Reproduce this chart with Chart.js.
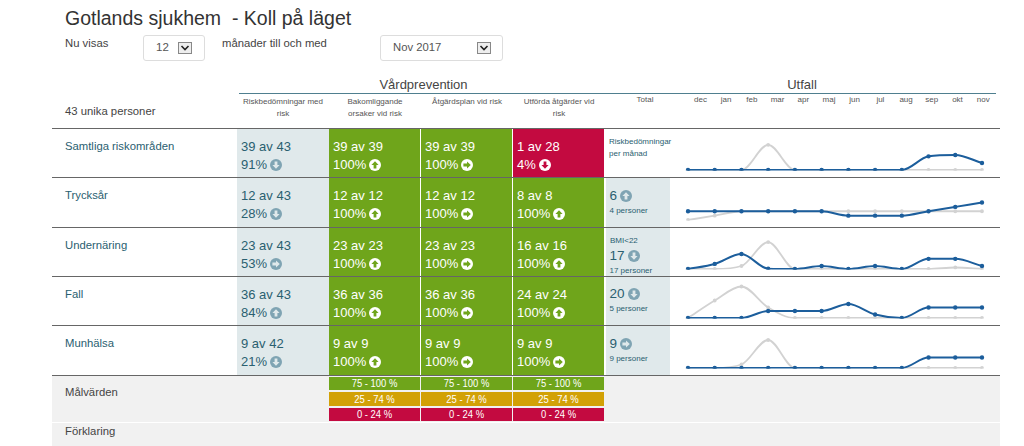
<!DOCTYPE html>
<html>
<head>
<meta charset="utf-8">
<title>Koll på läget</title>
<script src="https://cdn.jsdelivr.net/npm/chart.js@4"></script>
<style>
  html, body { margin: 0; padding: 0; background: #fff; overflow: hidden; }
  body { width: 1024px; height: 446px; position: relative; font-family: "Liberation Sans", Arial, sans-serif; color: #333; }
  .t { position: absolute; white-space: nowrap; line-height: 1; }
  .box { position: absolute; background: #fff; border: 1px solid #ddd; border-radius: 3px; box-sizing: border-box; }
  .drop { position: absolute; width: 14px; height: 12px; border: 1px solid #888; background: #eee; box-sizing: border-box; }
  .fill { position: absolute; }
  .ic { display: inline-block; vertical-align: -2px; margin-left: 3px; }
  canvas { position: absolute; }
</style>
</head>
<body>
<script>
// chart data
const months = ["dec", "jan", "feb", "mar", "apr", "maj", "jun", "jul", "aug", "sep", "okt", "nov"];
const rowNames = ["Samtliga riskområden", "Trycksår", "Undernäring", "Fall", "Munhälsa"];
const headers = ["Riskbedömningar med<br>risk", "Bakomliggande<br>orsaker vid risk", "Åtgärdsplan vid risk", "Utförda åtgärder vid<br>risk"];

const currentAll = [0, 0, 0, 0, 0, 0, 0, 0, 0, 3.9, 4.3, 2];
const previousAll = [0, 0, 0, 7.2, 0, 0, 0, 0, 0, 0, 0, 0];
const currentPressure = [2, 2, 2, 2, 2, 2, 1, 1, 1, 2, 3, 4];
const previousPressure = [0, 1, 2, 2, 2, 2, 2, 2, 2, 2, 2, 2];
const currentNutrition = [0, 1.7, 5, 0.1, 0, 1, 0, 1, 0, 3.4, 3.4, 1];
const previousNutrition = [0, 0, 1, 9, 0, 0, 0, 0, 0, 0, 0.5, 0];
const currentFalls = [0, 0, 0, 2, 2, 2, 4, 1, 0, 3, 3, 3];
const previousFalls = [0, 5, 9, 3, 0, 0, 0, 0, 0, 0, 0, 0];
const currentMouth = [0, 0, 0, 0, 0, 0, 0, 0, 0, 3, 3, 3];
const previousMouth = [0, 0, 1, 8, 0, 0, 0, 0, 0, 0, 0, 0];

const currentSeries = [currentAll, currentPressure, currentNutrition, currentFalls, currentMouth];
const previousSeries = [previousAll, previousPressure, previousNutrition, previousFalls, previousMouth];
const rowMax = [10, 8, 11.7, 10, 10];

const col1 = [["39 av 43", "91%", "d"], ["12 av 43", "28%", "d"], ["23 av 43", "53%", "r"], ["36 av 43", "84%", "u"], ["9 av 42", "21%", "d"]];
const col2 = [["39 av 39", "100%", "u"], ["12 av 12", "100%", "u"], ["23 av 23", "100%", "u"], ["36 av 36", "100%", "u"], ["9 av 9", "100%", "u"]];
const col3 = [["39 av 39", "100%", "r"], ["12 av 12", "100%", "r"], ["23 av 23", "100%", "r"], ["36 av 36", "100%", "r"], ["9 av 9", "100%", "r"]];
const col4 = [["1 av 28", "4%", "d"], ["8 av 8", "100%", "u"], ["16 av 16", "100%", "u"], ["24 av 24", "100%", "u"], ["9 av 9", "100%", "r"]];
const col4Bad = [true, false, false, false, false];
const totals = [null, ["6", "u", "4 personer"], ["17", "d", "17 personer"], ["20", "d", "5 personer"], ["9", "r", "9 personer"]];
const targets = ["75 - 100 %", "25 - 74 %", "0 - 24 %"];

const GREEN = "#6fa51b", RED = "#c30a40", AMBER = "#d2a106", PALE = "#e0e9eb", TEAL = "#2a6070";
const rowTop = [128, 177.5, 227, 276, 325.5, 375];
const colLeft = [237, 329, 421, 513];
const colWidth = [92, 91, 91, 91];

function text(str, x, y, size, color, extra) {
  const d = document.createElement("div");
  d.className = "t";
  d.innerHTML = str;
  d.style.cssText = "left:" + x + "px;top:" + (y - size / 2) + "px;font-size:" + size + "px;color:" + color + ";" + (extra || "");
  document.body.appendChild(d);
  return d;
}
function rect(x, y, w, h, color) {
  const d = document.createElement("div");
  d.className = "fill";
  d.style.cssText = "left:" + x + "px;top:" + y + "px;width:" + w + "px;height:" + h + "px;background:" + color;
  document.body.appendChild(d);
}
function icon(dir, bg, fg) {
  const rot = { u: 0, r: 90, d: 180 }[dir];
  return '<svg class="ic" width="12" height="12" viewBox="0 0 12 12"><circle cx="6" cy="6" r="6" fill="' + bg + '"/>' +
    '<path transform="rotate(' + rot + ' 6 6)" d="M6 2.2 L9.6 6 L7.4 6 L7.4 9.6 L4.6 9.6 L4.6 6 L2.4 6 Z" fill="' + fg + '"/></svg>';
}
function centered(str, cx, y, size, color, width, extra) {
  return text(str, cx - width / 2, y, size, color, "width:" + width + "px;text-align:center;" + (extra || ""));
}

// page head
text("Gotlands sjukhem&nbsp; - Koll på läget", 65, 19, 19.5, "#333");
text("Nu visas", 65, 44, 11.3, "#444");
text("månader till och med", 222, 44, 11.3, "#444");
const sel1 = document.createElement("div"); sel1.className = "box";
sel1.style.cssText = "left:143px;top:35px;width:62px;height:26px";
document.body.appendChild(sel1);
const sel2 = document.createElement("div"); sel2.className = "box";
sel2.style.cssText = "left:380px;top:35px;width:123px;height:26px";
document.body.appendChild(sel2);
text("12", 156, 48, 11.5, "#555");
text("Nov 2017", 393, 47.5, 11.3, "#555");
[178, 477].forEach(function (x) {
  const d = document.createElement("div"); d.className = "drop";
  d.style.cssText = "left:" + x + "px;top:42px;";
  d.innerHTML = '<svg width="12" height="10" viewBox="0 0 12 10" style="display:block"><path d="M2.5 3 L6 6.5 L9.5 3" fill="none" stroke="#222" stroke-width="1.6"/></svg>';
  document.body.appendChild(d);
});

// column heads
centered("Vårdprevention", 423.5, 84, 13, "#444", 200);
centered("Utfall", 802, 84, 13, "#444", 100);
rect(239, 93, 757, 1.2, "#4f7f8f");
text("43 unika personer", 65, 112, 11.3, "#444");
headers.forEach(function (h, i) {
  centered(h, 283 + i * 92, 100, 8, "#555", 92).style.lineHeight = "12px";
});
centered("Total", 645, 100, 8, "#555", 60);
months.forEach(function (m, i) {
  centered(m, 700.5 + i * 25.7, 100, 8, "#555", 26);
});

// bottom panel
rect(52, 376, 948, 70, "#f1f1f1");
rect(52, 422, 948, 0.8, "#fff");
text("Målvärden", 65, 393, 11.3, "#444");
text("Förklaring", 65, 432, 11.3, "#444");

// table rows
const cols = [col1, col2, col3, col4];
rowNames.forEach(function (name, r) {
  const top = rowTop[r], h = rowTop[r + 1] - top;
  text(name, 65, top + 18.5, 11.3, TEAL);
  cols.forEach(function (col, c) {
    const x = colLeft[c];
    const light = c === 0;
    const bad = c === 3 && col4Bad[r];
    rect(x, top, colWidth[c], h, light ? PALE : bad ? RED : GREEN);
    const fg = light ? TEAL : "#fff";
    text(col[r][0], x + 4, top + 18, 13, fg);
    text(col[r][1] + icon(col[r][2], light ? "#7fa4b3" : "#fff", light ? PALE : bad ? RED : GREEN), x + 4, top + 36, 13, fg);
  });
  const tot = totals[r];
  if (tot) {
    rect(606, top, 64, h, PALE);
    const bmi = r === 2;
    if (bmi) text("BMI&lt;22", 610, top + 14, 8, TEAL);
    text(tot[0] + icon(tot[1], "#7fa4b3", PALE), 609.5, top + (bmi ? 29 : 18), 13.5, TEAL);
    text(tot[2], 609.5, top + (bmi ? 44 : 33), 8, TEAL);
  }
});
text("Riskbedömningar", 609, 142, 8, TEAL);
text("per månad", 609, 154, 8, TEAL);

// goal boxes
[[377, 13, GREEN], [392, 14, AMBER], [408, 13, RED]].forEach(function (b, i) {
  colLeft.slice(1).forEach(function (x) {
    rect(x, b[0], 91, b[1], b[2]);
    centered(targets[i], x + 45.5, b[0] + b[1] / 2, 10.5, "#fff", 91, "transform:scaleX(0.9);");
  });
});

// row lines
rowTop.forEach(function (y) { rect(52, y - 0.5, 947.5, 1.4, "#666"); });

// one small line chart per row
rowNames.forEach(function (name, r) {
  const cv = document.createElement("canvas");
  const top = rowTop[r] + 1;
  cv.width = 330;
  cv.height = 48;
  cv.style.cssText = "left:670px;top:" + top + "px;width:330px;height:48px";
  document.body.appendChild(cv);
  new Chart(cv, {
    type: "line",
    data: {
      labels: months,
      datasets: [
        {
          data: currentSeries[r],
          borderColor: "#1c5e9c",
          backgroundColor: "#17507f",
          borderWidth: 2,
          pointRadius: 1.2,
          cubicInterpolationMode: "monotone",
          clip: { left: 5, right: 5, top: 5, bottom: 0.4 },
          order: 1,
        },
        {
          data: previousSeries[r],
          borderColor: "#d2d2d2",
          backgroundColor: "#d2d2d2",
          borderWidth: 1.8,
          pointRadius: 1,
          cubicInterpolationMode: "monotone",
          clip: { left: 5, right: 5, top: 5, bottom: 0.4 },
          order: 2,
        },
      ],
    },
    options: {
      responsive: false,
      animation: false,
      devicePixelRatio: 1,
      layout: { padding: { left: 18, right: 18, top: 0, bottom: 7 } },
      plugins: { legend: { display: false }, tooltip: { enabled: false } },
      scales: {
        x: { display: false, offset: false },
        y: { display: false, min: 0, max: rowMax[r] },
      },
    },
  });
});
</script>
</body>
</html>
